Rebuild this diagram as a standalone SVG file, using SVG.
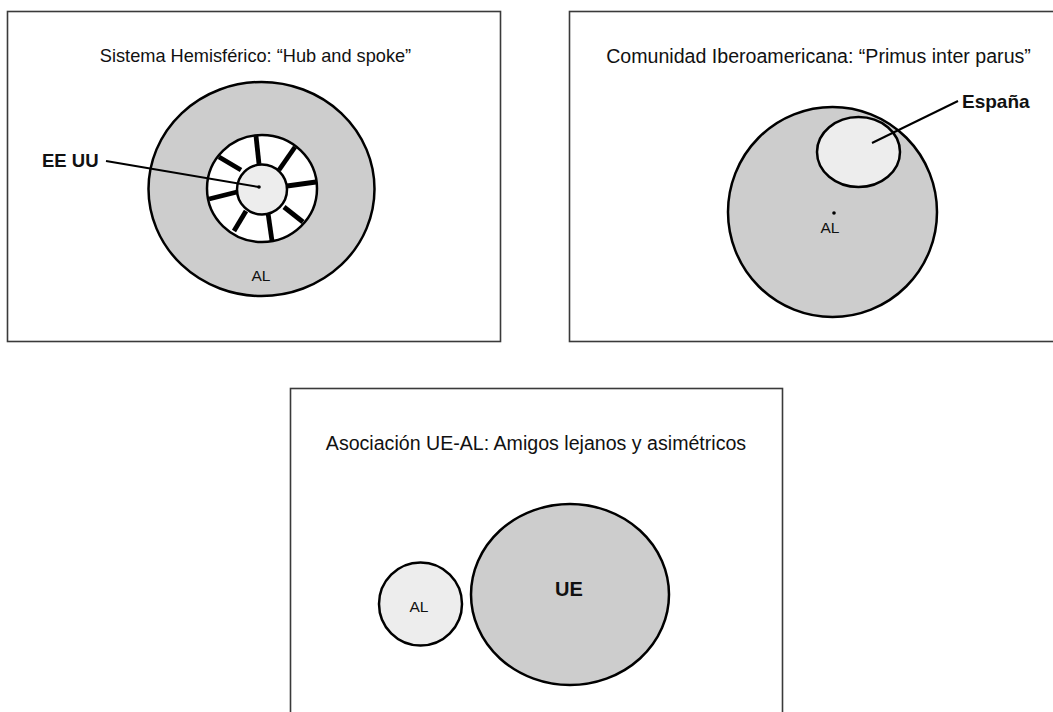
<svg xmlns="http://www.w3.org/2000/svg" width="1053" height="712" viewBox="0 0 1053 712">
<style>
.frame{fill:#fff;stroke:#3a3a3a;stroke-width:1.6}
.t{font-family:"Liberation Sans",Arial,sans-serif;fill:#111}
.title{font-size:18.2px}
.title2{font-size:19.6px}
.lab{font-size:15.5px}
.bold{font-size:18.5px;font-weight:bold}
.gray{fill:#cdcdcd;stroke:#000;stroke-width:2.5}
.light{fill:#ededed;stroke:#000;stroke-width:2.5}
.white{fill:#fff;stroke:#000;stroke-width:2.5}
.spoke{stroke:#000;stroke-width:4.8;stroke-linecap:butt}
.lead{stroke:#000;stroke-width:2;fill:none}
</style>
<rect width="1053" height="712" fill="#fff"/>
<g id="panel1">
<rect class="frame" x="7.5" y="11.5" width="493" height="330"/>
<text class="t title" x="255.5" y="62" text-anchor="middle">Sistema Hemisférico: “Hub and spoke”</text>
</g>
<g id="panel2">
<rect class="frame" x="569.5" y="11.5" width="490" height="330"/>
<text class="t title2" x="818.5" y="63" text-anchor="middle">Comunidad Iberoamericana: “Primus inter parus”</text>
</g>
<g id="panel3">
<rect class="frame" x="290.5" y="388.5" width="492" height="330"/>
<text class="t title2" x="536" y="450" text-anchor="middle">Asociación UE-AL: Amigos lejanos y asimétricos</text>
</g>
<g id="AL-hemisferico">
<ellipse class="gray" cx="261.5" cy="189" rx="113" ry="107"/>
<text class="t lab" x="261" y="281" text-anchor="middle">AL</text>
</g>
<g id="rueda">
<ellipse class="white" cx="262" cy="188.5" rx="55" ry="53.5"/>
<line class="spoke" x1="256" y1="136" x2="259" y2="164"/>
<line class="spoke" x1="295" y1="147" x2="279" y2="170"/>
<line class="spoke" x1="316" y1="182" x2="287" y2="186"/>
<line class="spoke" x1="303" y1="222" x2="284" y2="207"/>
<line class="spoke" x1="272" y1="241" x2="268" y2="213"/>
<line class="spoke" x1="234" y1="231" x2="246" y2="211"/>
<line class="spoke" x1="209" y1="199" x2="237" y2="192"/>
<line class="spoke" x1="219" y1="157" x2="241" y2="170"/>
</g>
<g id="EEUU">
<circle class="light" cx="262" cy="189.5" r="25"/>
<text class="t bold" x="42" y="167">EE UU</text>
</g>
<g id="AL-ibero">
<ellipse class="gray" cx="832.5" cy="212" rx="104.5" ry="105"/>
<circle cx="834" cy="213" r="1.8" fill="#000"/>
<text class="t lab" x="830" y="233" text-anchor="middle">AL</text>
</g>
<g id="Espana">
<ellipse class="light" cx="858.5" cy="152" rx="41.5" ry="35"/>
<text class="t bold" x="962" y="108" style="font-size:19px">España</text>
</g>
<g id="AL-asoc">
<circle class="light" cx="420.5" cy="604" r="41.5"/>
<text class="t lab" x="419" y="612" text-anchor="middle">AL</text>
</g>
<g id="UE">
<ellipse class="gray" cx="570" cy="594.5" rx="99" ry="90.5"/>
<text class="t bold" x="569" y="596" text-anchor="middle" style="font-size:20px">UE</text>
</g>
<g id="connectors">
<line class="lead" x1="106" y1="161" x2="259" y2="187"/>
<circle cx="259" cy="187" r="1.8" fill="#000"/>
<line class="lead" x1="872" y1="143" x2="958" y2="101"/>
</g>
</svg>
